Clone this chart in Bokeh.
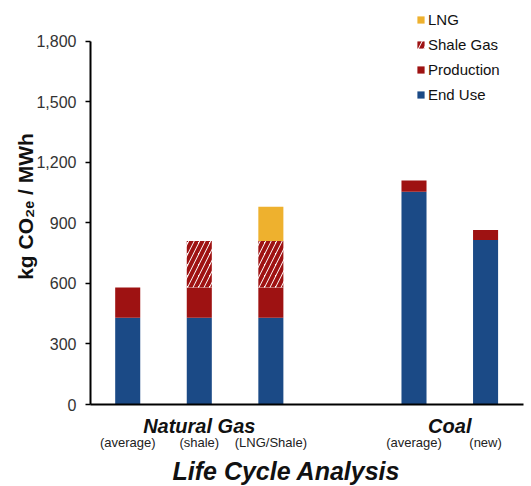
from bokeh.plotting import figure
from bokeh.models import (Range1d, LinearAxis, FixedTicker, NumeralTickFormatter,
                          Legend, LegendItem, Title, ColumnDataSource)
from bokeh.embed import file_html
from bokeh.resources import INLINE

# Life-cycle emissions, kg CO2e per MWh
cases = ["(average)", "(shale)", "(LNG/Shale)", "(average)", "(new)"]
positions = [0, 1, 2, 4, 5]
end_use = [430, 430, 430, 1055, 815]
production = [150, 150, 150, 55, 50]
shale_gas = [0, 230, 230, 0, 0]
lng = [0, 0, 170, 0, 0]
groups = ["Natural Gas", "Coal"]
group_positions = [1, 4.5]
y_ticks = [0, 300, 600, 900, 1200, 1500, 1800]

BLUE = "#1B4A86"
RED = "#9E1212"
ORANGE = "#EEB12E"
FONT = "Liberation Sans"

src = ColumnDataSource(dict(x=positions, end_use=end_use, production=production,
                            shale_gas=shale_gas, lng=lng))

p = figure(width=531, height=486, output_backend="svg", toolbar_location=None,
           x_range=Range1d(-0.52, 5.53), y_range=Range1d(0, 1963),
           min_border_left=90, min_border_right=8, min_border_top=8,
           min_border_bottom=82, x_axis_location=None, y_axis_location=None)
p.outline_line_color = None
p.xgrid.visible = False
p.ygrid.visible = False
p.background_fill_color = "white"
p.border_fill_color = "white"

r = p.vbar_stack(["end_use", "production", "shale_gas", "lng"], x="x", width=0.35,
                 source=src, color=[BLUE, RED, "white", ORANGE], line_color=None,
                 hatch_pattern=[" ", " ", "/", " "], hatch_color=RED,
                 hatch_weight=4, hatch_scale=11)

# y axis
yax = LinearAxis(ticker=FixedTicker(ticks=y_ticks), bounds=(0, 1800),
                 formatter=NumeralTickFormatter(format="0,0"))
yax.axis_line_color = "black"
yax.axis_line_width = 2
yax.major_tick_out = 5
yax.major_tick_in = 0
yax.major_tick_line_width = 1.5
yax.minor_tick_line_color = None
yax.major_label_text_font = FONT
yax.major_label_text_font_size = "16px"
yax.major_label_text_color = "#333333"
yax.major_label_standoff = 9
yax.axis_label = "kg CO\u2082\u2091 / MWh"
yax.axis_label_text_font = FONT
yax.axis_label_text_font_style = "bold"
yax.axis_label_text_font_size = "21px"
yax.axis_label_text_color = "#111111"
yax.axis_label_standoff = -4
p.add_layout(yax, "left")

# group labels on the baseline axis
gax = LinearAxis(ticker=FixedTicker(ticks=group_positions),
                 major_label_overrides={k: v for k, v in zip(group_positions, groups)})
gax.axis_line_color = "black"
gax.axis_line_width = 2
gax.major_tick_line_color = None
gax.minor_tick_line_color = None
gax.major_label_text_font = FONT
gax.major_label_text_font_style = "bold italic"
gax.major_label_text_font_size = "20px"
gax.major_label_text_color = "#111111"
gax.major_label_standoff = 4
p.add_layout(gax, "below")

# case labels under each bar
cax = LinearAxis(ticker=FixedTicker(ticks=positions),
                 major_label_overrides={k: v for k, v in zip(positions, cases)})
cax.axis_line_color = None
cax.major_tick_line_color = None
cax.minor_tick_line_color = None
cax.major_label_text_font = FONT
cax.major_label_text_font_size = "13px"
cax.major_label_text_color = "#222222"
cax.major_label_standoff = -11
p.add_layout(cax, "below")

title = Title(text="Life Cycle Analysis", align="left", offset=82,
              text_font=FONT, text_font_style="bold italic",
              text_font_size="25px", text_color="#111111", standoff=4)
p.add_layout(title, "below")

legend = Legend(items=[LegendItem(label="LNG", renderers=[r[3]]),
                       LegendItem(label="Shale Gas", renderers=[r[2]]),
                       LegendItem(label="Production", renderers=[r[1]]),
                       LegendItem(label="End Use", renderers=[r[0]])],
                location=(326, 301))
legend.background_fill_alpha = 0
legend.border_line_color = None
legend.glyph_width = 9
legend.glyph_height = 9
legend.label_text_font = FONT
legend.label_text_font_size = "15px"
legend.label_text_color = "#111111"
legend.label_standoff = 3
legend.label_height = 18
legend.spacing = 7
legend.margin = 0
legend.padding = 4
p.add_layout(legend)

open("out.html", "w").write(file_html(p, INLINE))
